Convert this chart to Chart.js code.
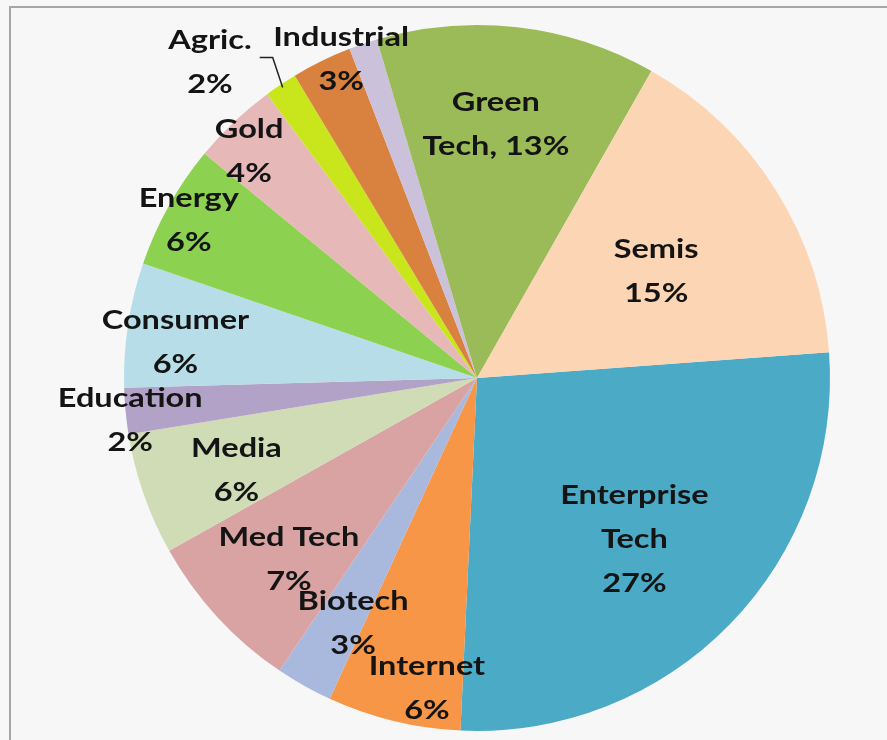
<!DOCTYPE html>
<html lang="en">
<head>
    <meta charset="UTF-8">
    <title>Sector Allocation Pie</title>
    <script src="https://cdn.jsdelivr.net/npm/chart.js"></script>
    <style>
        html, body { margin: 0; padding: 0; background: #f7f7f7; }
        #wrap { position: relative; width: 887px; height: 740px; overflow: hidden; }
        #frame { position: absolute; left: 9px; top: 6px; width: 900px; height: 760px;
                 border-left: 2px solid #a6a6a6; border-top: 2px solid #a6a6a6; }
        canvas { position: absolute; left: 0; top: 0; }
    </style>
</head>
<body>
    <div id="wrap">
        <div id="frame"></div>
        <canvas id="pie" width="887" height="740"></canvas>
    </div>
    <script>
        // sectors, clockwise starting at the Enterprise Tech slice
        const sectors = ['Enterprise Tech', 'Internet', 'Biotech', 'Med Tech', 'Media', 'Education',
            'Consumer', 'Energy', 'Gold', 'Agric.', 'Industrial', 'Other', 'Green Tech', 'Semis'];
        const shares = [26.9, 6.1, 2.6, 7.4, 5.6, 2.1, 5.7, 5.7, 3.9, 1.5, 2.75, 1.3, 12.8, 15.6];
        // label text as printed on the chart
        const labelLines = [
            ['Enterprise', 'Tech', '27%'], ['Internet', '6%'], ['Biotech', '3%'], ['Med Tech', '7%'],
            ['Media', '6%'], ['Education', '2%'], ['Consumer', '6%'], ['Energy', '6%'], ['Gold', '4%'],
            ['Agric.', '2%'], ['Industrial', '3%'], [], ['Green', 'Tech, 13%'], ['Semis', '15%']
        ];
        const colors = ['#4babc7', '#f79646', '#a9b9dd', '#d9a3a3', '#cfdcb5', '#b3a2c7',
            '#b7dee8', '#8dd150', '#e6b9b8', '#c9e61c', '#d9823f', '#ccc1da', '#9bbb59', '#fcd5b5'];

        // where each label sits: [fraction of radius, angle shift in degrees from slice middle]
        const labelPlace = [[0.64, 1.6], [0.89, -4.5], [0.78, -2.6], [0.74, -1.3], [0.73, -1.8],
            [0.99, -1.7], [0.86, -2.0], [0.93, -0.6], [0.91, -1.7], [1.17, -6.5], [0.98, 3.0],
            null, [0.72, -2.3], [0.59, 1.6]];

        const sliceLabels = {
            id: 'sliceLabels',
            afterDatasetsDraw(chart) {
                const ctx = chart.ctx;
                const arcs = chart.getDatasetMeta(0).data;
                ctx.save();
                ctx.font = 'bold 26px Lato, "DejaVu Sans", sans-serif';
                ctx.fillStyle = '#141414';
                ctx.textAlign = 'center';
                ctx.textBaseline = 'middle';
                arcs.forEach((arc, i) => {
                    const place = labelPlace[i];
                    if (!place) return;
                    const p = arc.getProps(['x', 'y', 'startAngle', 'endAngle', 'outerRadius'], true);
                    const mid = (p.startAngle + p.endAngle) / 2;
                    const a = mid + place[1] * Math.PI / 180;
                    const cx = p.x + Math.cos(a) * p.outerRadius * place[0];
                    const cy = p.y + Math.sin(a) * p.outerRadius * place[0];
                    const lines = labelLines[i];
                    const lh = 44;
                    lines.forEach((t, k) => {
                        // text in the original is a wide, stretched face
                        ctx.save();
                        ctx.translate(cx, cy + (k - (lines.length - 1) / 2) * lh);
                        ctx.scale(1.25, 1);
                        ctx.fillText(t, 0, 0);
                        ctx.restore();
                    });
                    // leader line for the Agric. label
                    if (sectors[i] === 'Agric.') {
                        const ex = p.x + Math.cos(mid) * p.outerRadius * 0.99;
                        const ey = p.y + Math.sin(mid) * p.outerRadius * 0.99;
                        ctx.strokeStyle = '#222';
                        ctx.lineWidth = 1.5;
                        ctx.beginPath();
                        ctx.moveTo(ex - 23, ey - 30);
                        ctx.lineTo(ex - 10, ey - 30);
                        ctx.lineTo(ex, ey);
                        ctx.stroke();
                    }
                });
                ctx.restore();
            }
        };

        new Chart(document.getElementById('pie'), {
            type: 'pie',
            data: {
                labels: sectors,
                datasets: [{
                    data: shares,
                    backgroundColor: colors,
                    borderWidth: 0
                }]
            },
            options: {
                responsive: false,
                animation: false,
                rotation: 85.8,
                layout: { padding: { left: 80, right: 13, top: 25, bottom: 9 } },
                plugins: { legend: { display: false }, tooltip: { enabled: false } }
            },
            plugins: [sliceLabels]
        });
    </script>
</body>
</html>
